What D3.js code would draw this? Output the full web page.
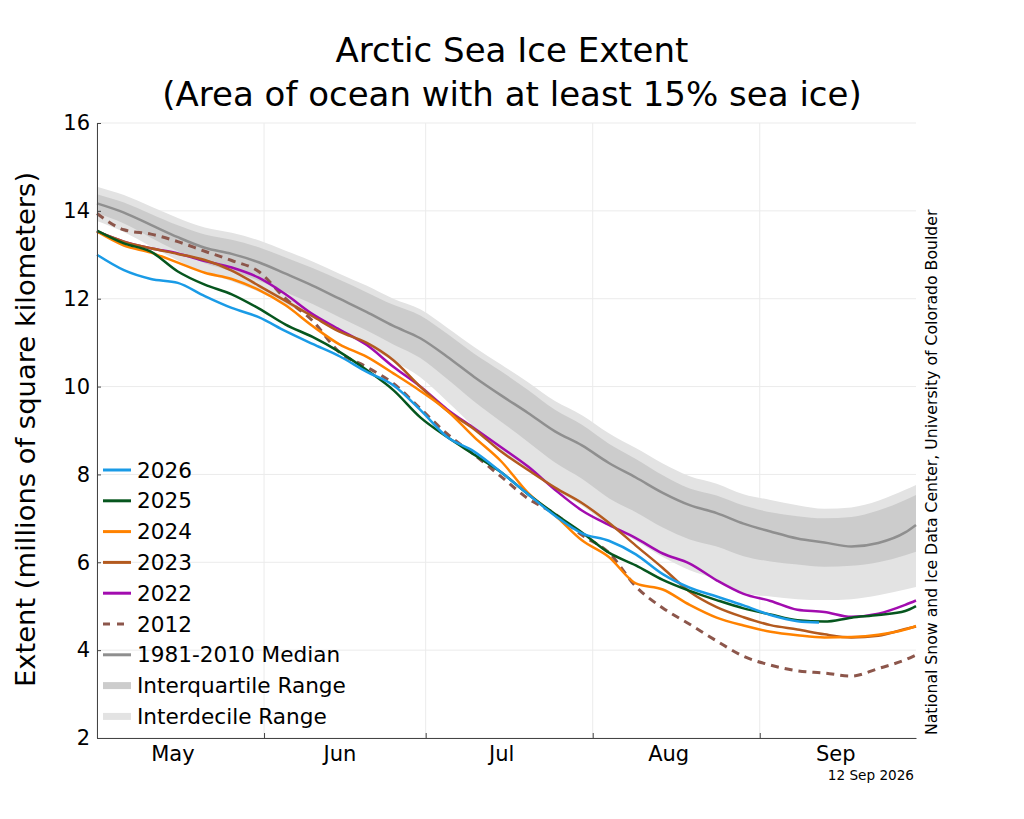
<!DOCTYPE html>
<html>
<head>
<meta charset="utf-8">
<script src="https://cdn.jsdelivr.net/npm/d3@7"></script>
<style>
  body { margin: 0; background: #fff; }
  text { font-family: 'DejaVu Sans', sans-serif; }
</style>
</head>
<body>
<div id="chart"></div>
<script>
// Data (millions of km², sampled from 1 May)
const dayOffsets = [0, 5, 10, 15, 20, 25, 30, 35, 40, 45, 50, 55, 60, 65, 70, 75,
  80, 85, 90, 95, 100, 105, 110, 115, 120, 125, 130, 135, 140, 145, 150, 152]
const days2026 = [0, 5, 10, 15, 20, 25, 30, 35, 40, 45, 50, 55, 60, 65, 70, 75,
  80, 85, 90, 95, 100, 105, 110, 115, 120, 125, 130, 134]

const median = [14.17, 13.96, 13.68, 13.40, 13.16, 13.02, 12.83, 12.57, 12.30, 12.00, 11.70, 11.38,
  11.10, 10.68, 10.22, 9.80, 9.40, 8.98, 8.66, 8.26, 7.93, 7.58, 7.30, 7.12, 6.88, 6.70, 6.54,
  6.45, 6.36, 6.44, 6.68, 6.85]
const iqrHigh = [14.38, 14.19, 13.93, 13.67, 13.46, 13.34, 13.17, 12.94, 12.70, 12.43, 12.15, 11.86,
  11.62, 11.20, 10.75, 10.35, 9.92, 9.47, 9.13, 8.70, 8.35, 7.98, 7.68, 7.52, 7.29, 7.14, 7.05,
  7.00, 7.03, 7.18, 7.42, 7.53]
const iqrLow = [13.95, 13.71, 13.39, 13.08, 12.81, 12.63, 12.41, 12.15, 11.88, 11.58, 11.28, 10.96,
  10.65, 10.17, 9.66, 9.20, 8.74, 8.27, 7.90, 7.46, 7.14, 6.79, 6.52, 6.36, 6.14, 6.02, 5.95,
  5.90, 5.92, 6.00, 6.16, 6.24]
const idrHigh = [14.55, 14.36, 14.10, 13.84, 13.62, 13.50, 13.33, 13.09, 12.85, 12.57, 12.30, 12.00,
  11.76, 11.34, 10.90, 10.50, 10.10, 9.67, 9.35, 8.94, 8.60, 8.25, 7.96, 7.79, 7.55, 7.42, 7.30,
  7.22, 7.25, 7.40, 7.65, 7.76]
const idrLow = [13.77, 13.52, 13.19, 12.87, 12.58, 12.40, 12.16, 11.87, 11.58, 11.25, 10.93, 10.58,
  10.21, 9.66, 9.08, 8.55, 8.11, 7.65, 7.29, 6.84, 6.49, 6.12, 5.82, 5.61, 5.30, 5.22, 5.16,
  5.14, 5.16, 5.25, 5.38, 5.44]

const ext2026 = [13.00, 12.65, 12.45, 12.36, 12.06, 11.79, 11.58, 11.26, 10.97, 10.69, 10.34, 10.03,
  9.47, 8.85, 8.52, 8.05, 7.55, 7.06, 6.66, 6.49, 6.18, 5.73, 5.42, 5.22, 5.02, 4.80, 4.66, 4.63]
const ext2025 = [13.55, 13.26, 13.07, 12.62, 12.32, 12.10, 11.78, 11.41, 11.13, 10.79, 10.38, 9.92,
  9.30, 8.85, 8.45, 8.05, 7.55, 7.10, 6.68, 6.22, 5.93, 5.60, 5.35, 5.14, 4.95, 4.81, 4.68,
  4.65, 4.74, 4.80, 4.89, 5.00]
const ext2024 = [13.53, 13.21, 13.05, 12.82, 12.59, 12.45, 12.20, 11.85, 11.38, 10.96, 10.68, 10.30,
  9.90, 9.45, 8.85, 8.30, 7.58, 7.07, 6.50, 6.12, 5.52, 5.38, 5.03, 4.74, 4.56, 4.42, 4.34,
  4.29, 4.30, 4.35, 4.47, 4.55]
const ext2023 = [13.53, 13.30, 13.15, 13.02, 12.88, 12.64, 12.30, 11.95, 11.60, 11.25, 11.00, 10.60,
  10.00, 9.45, 9.03, 8.52, 8.10, 7.70, 7.35, 6.90, 6.38, 5.87, 5.33, 4.98, 4.75, 4.57, 4.47,
  4.36, 4.29, 4.33, 4.48, 4.54]
const ext2022 = [13.53, 13.30, 13.15, 13.03, 12.86, 12.71, 12.48, 12.10, 11.65, 11.30, 10.95, 10.45,
  10.00, 9.48, 9.05, 8.62, 8.18, 7.65, 7.18, 6.85, 6.55, 6.20, 5.97, 5.59, 5.28, 5.12, 4.92,
  4.87, 4.76, 4.83, 5.03, 5.13]
const ext2012 = [13.94, 13.57, 13.47, 13.30, 13.08, 12.87, 12.62, 12.00, 11.50, 10.78, 10.45, 10.07,
  9.50, 8.92, 8.45, 7.95, 7.45, 7.10, 6.62, 6.22, 5.45, 4.96, 4.59, 4.21, 3.86, 3.66, 3.53,
  3.48, 3.41, 3.58, 3.78, 3.89]

const yTicks = [2, 4, 6, 8, 10, 12, 14, 16]
const updated = '12 Sep 2026'

const startDate = new Date(Date.UTC(2026, 4, 1))
const endDate = new Date(Date.UTC(2026, 8, 30))
const toDate = (d) => d3.utcDay.offset(startDate, d)

const years = [
  { label: '2012', days: dayOffsets, values: ext2012, color: '#8c564b', dash: '8,6' },
  { label: '2022', days: dayOffsets, values: ext2022, color: '#a20caf' },
  { label: '2023', days: dayOffsets, values: ext2023, color: '#b35a1f' },
  { label: '2024', days: dayOffsets, values: ext2024, color: '#ff8200' },
  { label: '2025', days: dayOffsets, values: ext2025, color: '#06561e' },
  { label: '2026', days: days2026, values: ext2026, color: '#1a9be6' },
]

// Dimensions
const dims = { width: 1024, height: 819, left: 97, right: 916, top: 123, bottom: 738 }

const svg = d3.select('#chart')
  .append('svg')
  .attr('width', dims.width)
  .attr('height', dims.height)

svg.append('rect').attr('width', dims.width).attr('height', dims.height).attr('fill', '#fff')

// Scales
const xScale = d3.scaleUtc().domain([startDate, endDate]).range([dims.left, dims.right])
const yScale = d3.scaleLinear().domain([2, 16]).range([dims.bottom, dims.top])

const monthStarts = d3.utcMonth.range(startDate, endDate)
const monthMids = monthStarts.map((m) => d3.utcDay.offset(m, 14))

// Grid
const grid = svg.append('g').attr('stroke', '#ebebeb').attr('stroke-width', 1)
grid.selectAll('.gx')
  .data(monthStarts)
  .join('line')
  .attr('x1', (d) => xScale(d)).attr('x2', (d) => xScale(d))
  .attr('y1', dims.top).attr('y2', dims.bottom)
grid.selectAll('.gy')
  .data(yTicks)
  .join('line')
  .attr('x1', dims.left).attr('x2', dims.right)
  .attr('y1', (d) => yScale(d)).attr('y2', (d) => yScale(d))

// Bands
const area = (lo, hi) => d3.area()
  .x((d, i) => xScale(toDate(dayOffsets[i])))
  .y0((d, i) => yScale(lo[i]))
  .y1((d, i) => yScale(hi[i]))
  .curve(d3.curveMonotoneX)

svg.append('path').datum(dayOffsets).attr('d', area(idrLow, idrHigh)).attr('fill', '#e3e3e3')
svg.append('path').datum(dayOffsets).attr('d', area(iqrLow, iqrHigh)).attr('fill', '#cccccc')

const line = (days) => d3.line()
  .x((d, i) => xScale(toDate(days[i])))
  .y((d) => yScale(d))
  .curve(d3.curveMonotoneX)

svg.append('path')
  .datum(median)
  .attr('d', line(dayOffsets))
  .attr('fill', 'none')
  .attr('stroke', '#8f8f8f')
  .attr('stroke-width', 2.5)

years.forEach((s) => {
  svg.append('path')
    .datum(s.values)
    .attr('d', line(s.days))
    .attr('fill', 'none')
    .attr('stroke', s.color)
    .attr('stroke-width', s.dash ? 3 : 2.5)
    .attr('stroke-dasharray', s.dash || null)
})

// Axes
const xAxis = d3.axisBottom(xScale).tickValues(monthStarts).tickFormat('').tickSizeInner(-5).tickSizeOuter(0)
const gx = svg.append('g').attr('transform', `translate(0,${dims.bottom})`).call(xAxis)
gx.select('.domain').attr('stroke', '#444')
gx.selectAll('.tick line').attr('stroke', '#444')

const xLabels = d3.axisBottom(xScale).tickValues(monthMids).tickFormat(d3.utcFormat('%b')).tickSize(0).tickPadding(8)
const gxl = svg.append('g').attr('transform', `translate(0,${dims.bottom})`).call(xLabels)
gxl.select('.domain').remove()
gxl.selectAll('text').attr('font-size', 21).attr('font-family', 'DejaVu Sans').attr('fill', '#000')

const yAxis = d3.axisLeft(yScale).tickValues(yTicks).tickSizeInner(-4).tickSizeOuter(0).tickPadding(7)
const gy = svg.append('g').attr('transform', `translate(${dims.left},0)`).call(yAxis)
gy.select('.domain').attr('stroke', '#444')
gy.selectAll('.tick line').attr('stroke', '#444')
gy.selectAll('text').attr('font-size', 21).attr('font-family', 'DejaVu Sans').attr('fill', '#000')

// Titles
svg.append('text').attr('x', 512).attr('y', 62).attr('text-anchor', 'middle')
  .attr('font-size', 34).text('Arctic Sea Ice Extent')
svg.append('text').attr('x', 512).attr('y', 106).attr('text-anchor', 'middle')
  .attr('font-size', 34).text('(Area of ocean with at least 15% sea ice)')

svg.append('text')
  .attr('transform', `translate(35,${(dims.top + dims.bottom) / 2 - 1}) rotate(-90)`)
  .attr('text-anchor', 'middle')
  .attr('font-size', 27.4)
  .text('Extent (millions of square kilometers)')

svg.append('text')
  .attr('transform', `translate(937,${dims.bottom - 3}) rotate(-90)`)
  .attr('font-size', 15.7)
  .text('National Snow and Ice Data Center, University of Colorado Boulder')

svg.append('text').attr('x', 914).attr('y', 780).attr('text-anchor', 'end')
  .attr('font-size', 13.6).text(updated)

// Legend
const legendItems = [
  ...years.slice().reverse().map((s) => ({ label: s.label, color: s.color, width: 3, dash: s.dash })),
  { label: '1981-2010 Median', color: '#8f8f8f', width: 3 },
  { label: 'Interquartile Range', color: '#cccccc', width: 7 },
  { label: 'Interdecile Range', color: '#e3e3e3', width: 7 },
]

const legend = svg.append('g').attr('transform', 'translate(103,470)')
const item = legend.selectAll('g')
  .data(legendItems)
  .join('g')
  .attr('transform', (d, i) => `translate(0,${i * 30.8})`)
item.append('line')
  .attr('x1', 0).attr('x2', 28)
  .attr('stroke', (d) => d.color)
  .attr('stroke-width', (d) => d.width)
  .attr('stroke-dasharray', (d) => d.dash ? '7,7' : null)
item.append('text')
  .attr('x', 34)
  .attr('dy', '0.35em')
  .attr('font-size', 21.6)
  .text((d) => d.label)
</script>
</body>
</html>
